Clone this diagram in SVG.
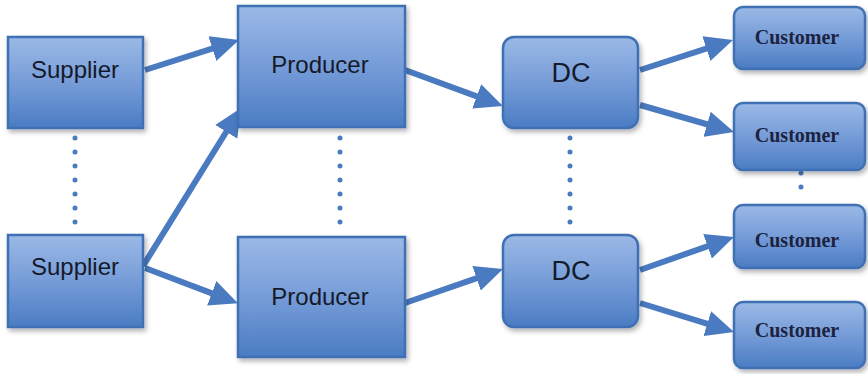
<svg xmlns="http://www.w3.org/2000/svg" width="868" height="374" viewBox="0 0 868 374">
<style>
.box{fill:url(#g);stroke:#4170b4;stroke-width:2.5;filter:url(#sh)}
.sans{font-family:"Liberation Sans",Arial,sans-serif;font-size:24px;fill:#141a2a;text-anchor:middle}
.dc{font-size:27px}
.cust{font-family:"Liberation Serif","Times New Roman",serif;font-weight:bold;font-size:20px;fill:#1c2340;text-anchor:middle}
.arrow{stroke:#4a7bc1;stroke-width:6;fill:none;marker-end:url(#ah)}
.dots{stroke:#4a7bc1;stroke-width:5;stroke-linecap:round;stroke-dasharray:0 14;fill:none}
</style>
<defs>
<linearGradient id="g" x1="0" y1="0" x2="0" y2="1">
<stop offset="0" stop-color="#9bb9e6"/>
<stop offset="0.55" stop-color="#7299d6"/>
<stop offset="1" stop-color="#4a7cc3"/>
</linearGradient>
<filter id="sh" x="-10%" y="-10%" width="125%" height="130%">
<feDropShadow dx="2" dy="3" stdDeviation="2.5" flood-color="#000" flood-opacity="0.3"/>
</filter>
<marker id="ah" markerUnits="userSpaceOnUse" markerWidth="28" markerHeight="26" refX="8" refY="13" orient="auto">
<path d="M0,0 L28,13 L0,26 z" fill="#4a7bc1"/>
</marker>
</defs>
<g id="connectors">
<line class="arrow" x1="145" y1="70" x2="220" y2="46.1"/>
<line class="arrow" x1="143" y1="266" x2="230.5" y2="125"/>
<line class="arrow" x1="145" y1="268" x2="219.2" y2="296.1"/>
<line class="arrow" x1="405" y1="70" x2="484.2" y2="99.1"/>
<line class="arrow" x1="405" y1="303" x2="484.1" y2="275.6"/>
<line class="arrow" x1="640" y1="70" x2="714" y2="46.1"/>
<line class="arrow" x1="640" y1="105" x2="714.8" y2="126.5"/>
<line class="arrow" x1="640" y1="270" x2="715.1" y2="243.6"/>
<line class="arrow" x1="640" y1="303" x2="714.9" y2="326.1"/>
<line class="dots" x1="75" y1="138" x2="75" y2="226"/>
<line class="dots" x1="340" y1="138" x2="340" y2="226"/>
<line class="dots" x1="570" y1="138" x2="570" y2="226"/>
<line class="dots" x1="801" y1="173" x2="801" y2="201"/>
</g>
<g id="supplier1"><rect class="box" x="8" y="37" width="135" height="91"/><text class="sans" x="75" y="78">Supplier</text></g>
<g id="supplier2"><rect class="box" x="8" y="235" width="135" height="92"/><text class="sans" x="75" y="275">Supplier</text></g>
<g id="producer1"><rect class="box" x="238" y="6" width="167" height="121"/><text class="sans" x="320" y="73">Producer</text></g>
<g id="producer2"><rect class="box" x="238" y="237" width="167" height="120"/><text class="sans" x="320" y="305">Producer</text></g>
<g id="dc1"><rect class="box" x="503" y="37" width="135" height="91" rx="11"/><text class="sans dc" x="571" y="82">DC</text></g>
<g id="dc2"><rect class="box" x="503" y="235" width="135" height="92" rx="11"/><text class="sans dc" x="571" y="280">DC</text></g>
<g id="customer1"><rect class="box" x="734" y="7" width="131" height="62" rx="9"/><text class="cust" x="797" y="44">Customer</text></g>
<g id="customer2"><rect class="box" x="734" y="103" width="131" height="67" rx="9"/><text class="cust" x="797" y="142">Customer</text></g>
<g id="customer3"><rect class="box" x="734" y="205" width="131" height="63" rx="9"/><text class="cust" x="797" y="247">Customer</text></g>
<g id="customer4"><rect class="box" x="734" y="302" width="131" height="66" rx="9"/><text class="cust" x="797" y="337">Customer</text></g>
</svg>
